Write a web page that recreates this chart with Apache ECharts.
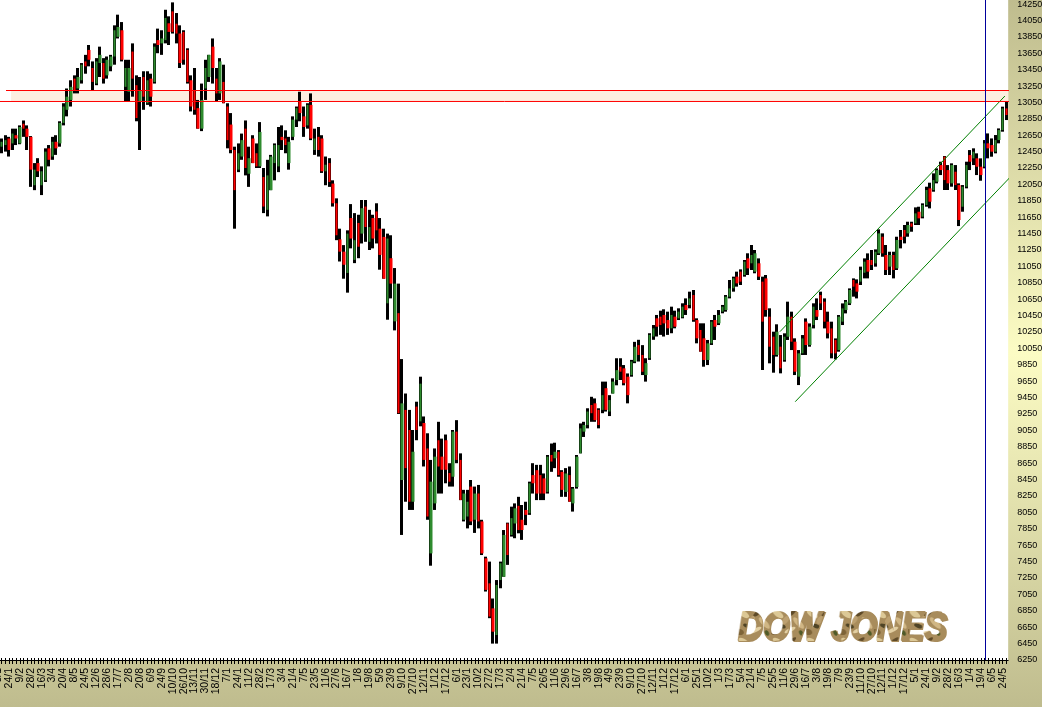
<!DOCTYPE html>
<html>
<head>
<meta charset="utf-8">
<style>html,body{margin:0;padding:0;background:#fff}#c{width:1042px;height:707px}</style>
<script src="https://cdn.jsdelivr.net/npm/echarts@6/dist/echarts.min.js"></script>
</head>
<body>
<div id="c"></div>
<script>
// Date labels, one for every third tick
const tickLabels = ["5/1","24/1","9/2","28/2","16/3","3/4","20/4","8/5","24/5","12/6","28/6","17/7","2/8","20/8","6/9","24/9","10/10","26/10","13/11","30/11","18/12","7/1","24/1","11/2","28/2","17/3","3/4","21/4","7/5","23/5","11/6","27/6","16/7","1/8","19/8","5/9","23/9","9/10","27/10","12/11","1/12","17/12","6/1","23/1","10/2","27/2","17/3","2/4","21/4","7/5","26/5","11/6","29/6","16/7","3/8","19/8","4/9","23/9","9/10","27/10","12/11","1/12","17/12","6/1","25/1","10/2","1/3","17/3","5/4","21/4","7/5","25/5","11/6","29/6","16/7","3/8","19/8","7/9","23/9","11/10","27/10","12/11","1/12","17/12","5/1","24/1","9/2","28/2","16/3","1/4","19/4","6/5","24/5"];
const priceTicks = [6250,6450,6650,6850,7050,7250,7450,7650,7850,8050,8250,8450,8650,8850,9050,9250,9450,9650,9850,10050,10250,10450,10650,10850,11050,11250,11450,11650,11850,12050,12250,12450,12650,12850,13050,13250,13450,13650,13850,14050,14250];
// Bars: [open, close, low, high]
const barsA = [[12490,12550,12430,12590],[12510,12570,12430,12610],[12530,12590,12450,12650],[12610,12470,12390,12630],[12550,12670,12470,12730],[12650,12610,12530,12730],[12550,12750,12540,12770],[12790,12730,12630,12830],[12730,12630,12470,12770],[12630,12230,12020,12640],[12040,12230,11980,12310],[12310,12210,12140,12370],[12040,12210,11920,12270],[12100,12450,12080,12490],[12490,12350,12270,12530],[12390,12570,12350,12630],[12570,12490,12410,12650],[12550,12800,12510,12820],[12800,13000,12770,13040],[12960,13120,12880,13220],[13080,13240,13000,13320],[13340,13200,13160,13380],[13220,13360,13160,13470],[13320,13510,13280,13530],[13550,13490,13400,13630],[13690,13570,13490,13750],[13470,13300,13200,13550],[13280,13550,13260,13590],[13530,13630,13360,13730],[13530,13340,13280,13590],[13380,13570,13340,13610],[13490,13610,13430,13630],[13610,13930,13510,13990],[13850,13970,13830,14120],[13930,13570,13550,14030],[13240,13470,13060,13570],[13180,13470,13060,13570],[13670,13340,13120,13770],[13260,12860,12820,13380],[13060,13200,12470,13360],[13360,13120,12960,13430],[13040,13320,13020,13430],[13340,13120,13000,13400],[13300,13730,13280,13770],[13810,13750,13650,13950],[13770,13830,13630,13930],[13810,14080,13770,14180],[14015,13910,13750,14100],[14160,13910,13890,14270],[14010,13890,13770,14140],[13890,13530,13470,13990],[13910,13570,13510,13930],[13690,13300,13280,13710],[13320,13000,12940,13380],[13200,12960,12900,13470],[12980,12730,12730,13080],[12730,13080,12700,13280],[13220,13470,13080,13570],[13360,13630,13300,13630],[13730,13470,13280,13830],[13340,13160,13060,13470],[13160,13550,13080,13590],[13300,13040,13040,13510],[13000,12590,12490,13040],[12780,12470,12430,12920],[12470,11980,11510,12510],[12230,12430,12200,12550],[12390,12590,12350,12670],[12730,12250,12160,12830],[12180,12370,12020,12510],[12610,12310,12310,12650],[12430,12270,12250,12550],[12270,12690,12250,12810],[12140,11780,11700,12250],[11740,12160,11660,12350],[11980,12390,11980,12410],[12310,12530,12100,12550],[12270,12530,12200,12750],[12630,12590,12470,12770],[12610,12530,12430,12710],[12310,12570,12230,12630],[12630,12840,12590,12880],[12840,12980,12750,13000],[13060,12920,12820,13180],[12880,12750,12630,13000],[12770,13020,12730,13040],[13020,12610,12590,13160],[12470,12610,12410,12730],[12630,12470,12390,12750],[12610,12210,12190,12650],[12210,12290,12040,12390],[12310,12080,12020,12370],[12060,11820,11780,12100],[11820,11430,11370,11880]];
const barsB = [[11380,11230,11110,11510],[11230,11070,10900,11310],[10970,11450,10730,11490],[11640,11390,11270,11810],[11130,11370,11090,11700],[11580,11290,11150,11680],[11450,11760,11330,11860],[11780,11530,11350,11860],[11350,11530,11250,11740],[11640,11390,11270,11680],[11720,11490,11330,11820],[11510,11190,11010,11640],[11410,10900,10900,11510],[10600,11390,10400,11450],[11150,10840,10660,11430],[10380,10840,10270,11030],[10480,9260,9250,10840],[8445,9380,7775,9920],[9300,8590,8180,9500],[9055,8180,8080,9300],[8180,8790,8080,9055],[9340,9055,8930,9400],[9160,9620,9100,9705],[9140,8690,8610,9220],[8830,8000,7960,9015],[7550,8425,7400,8690],[8160,8730,8080,8830],[8930,8610,8280,9155],[8730,8570,8280,8950],[8930,8570,8405,9000],[8530,8425,8365,8650],[8485,9035,8365,9055],[9035,8690,8650,9175],[8690,8200,8200,8770],[7960,8280,7940,8325],[8000,8180,7855,8325],[8365,7940,7895,8445],[7960,8280,7800,8365],[8280,7940,7855,8385],[7940,7550,7530,7960],[7490,7105,7085,7510],[7185,6780,6760,7450],[6880,6595,6450,7000],[6555,7165,6450,7225],[7225,7430,7125,7450],[7265,7775,7265,7835],[7915,7530,7410,7925],[7775,7980,7755,8120],[7915,8100,7735,8160],[8130,7835,7795,8240],[7960,7835,7715,8140],[8080,8020,7895,8180],[8040,8405,8020,8425],[8505,8405,8280,8650],[8565,8280,8200,8630],[8505,8280,8200,8630],[8465,8280,8200,8525],[8300,8730,8280,8750],[8750,8670,8545,8890],[8710,8790,8590,8900],[8790,8505,8485,8810],[8545,8325,8240,8565],[8300,8525,8240,8590],[8505,8180,8180,8610]];
const barsC = [[8160,8340,8060,8360],[8360,8730,8340,8750],[8770,9075,8770,9135],[9035,9115,8970,9155],[9115,9280,9075,9320],[9360,9260,9155,9460],[9380,9175,9155,9440],[9300,9115,9075,9320],[9300,9480,9260,9645],[9565,9300,9280,9645],[9280,9420,9225,9480],[9500,9645,9500,9685],[9665,9785,9600,9930],[9827,9766,9665,9930],[9807,9625,9600,9847],[9705,9480,9380,9745],[9725,9890,9705,9910],[9890,10070,9870,10130],[10090,9970,9890,10155],[9970,9765,9725,10090],[9725,9870,9645,9930],[9930,10215,9910,10235],[10195,10295,10155,10335],[10417,10315,10195,10458],[10437,10335,10215,10510],[10458,10355,10195,10527],[10396,10295,10215,10498],[10295,10458,10235,10559],[10437,10315,10295,10510],[10417,10498,10396,10539],[10430,10559,10417,10600],[10580,10518,10458,10660],[10580,10660,10539,10742],[10701,10396,10375,10762],[10396,10173,10112,10417],[10275,10010,10010,10356],[10173,9909,9827,10356],[9909,10112,9847,10153],[10112,10376,10092,10396],[10396,10315,10153,10458],[10356,10458,10335,10518],[10498,10559,10478,10580],[10518,10681,10498,10701],[10681,10782,10660,10884],[10783,10905,10742,10925],[10925,10843,10803,10986],[10986,10864,10823,11014],[10945,11108,10925,11128],[11148,11026,10945,11210],[11088,11189,11006,11311],[10986,11210,10966,11250],[11088,10925,10884,11148],[10864,10376,9787,10925],[10904,10518,10437,10945],[10437,10071,9868,10539],[10193,9970,9754,10254],[9970,10254,9950,10344],[10071,9807,9746,10213],[9909,10193,9888,10234],[10193,10437,10153,10620],[10437,10132,10030,10498],[10132,9766,9725,10173]];
const barsD = [[9705,9990,9603,10030],[9990,10172,9970,10213],[10376,10091,9970,10416],[10091,10315,10071,10355],[10335,10559,10294,10600],[10518,10437,10396,10660],[10701,10599,10518,10742],[10620,10376,10294,10660],[10376,10233,10172,10498],[10294,9990,9929,10376],[10152,9990,9916,10172],[10030,10437,10010,10457],[10376,10538,10335,10599],[10518,10620,10477,10640],[10599,10762,10579,10782],[10884,10803,10681,10904],[10843,10742,10660,10892],[10864,11006,10823,11047],[10973,11108,10904,11148],[11128,10986,10904,11209],[11128,11067,11006,11250],[11087,11229,11047,11258],[11209,11453,11189,11502],[11412,11209,11168,11453],[11189,11006,10945,11311],[11047,11189,10945,11229],[11189,11006,10904,11229],[11026,11372,11006,11412],[11412,11372,11270,11494],[11494,11412,11331,11555],[11453,11555,11412,11595],[11575,11534,11473,11595],[11575,11697,11555,11770],[11717,11636,11555,11778],[11656,11799,11636,11819],[11799,11982,11778,12022],[12002,11839,11758,12071],[11982,12103,11961,12185],[12083,12225,12063,12246],[12286,12225,12164,12327],[12388,12103,11982,12396],[12225,12063,11982,12286],[12063,12286,12022,12307],[12205,12042,11982,12286],[12042,11616,11542,12063],[11778,12022,11717,12042],[12022,12286,12002,12327],[12408,12327,12225,12469],[12368,12449,12286,12490],[12368,12266,12164,12429],[12266,12164,12095,12368],[12266,12551,12246,12591],[12551,12490,12368,12672],[12530,12449,12388,12611],[12449,12591,12429,12652],[12591,12713,12551,12733],[12713,12977,12693,12998],[12977,12896,12835,13059]];
// Channel and level lines: [bar position, price]
const channelUpper = [[214.8,10254],[276.6,13128]];
const channelLower = [[219,9400],[280.8,12266]];
const levelHigh = [[2.2,13195.3],[278.6,13195.3]];
const levelLow = [[0,13061.2],[278.6,13061.2]];
const cursorLine = [[271.27,14299],[271.27,6250]];

const bars = barsA.concat(barsB, barsC, barsD);
const categories = bars.map((b, i) => i % 3 === 0 ? (tickLabels[i / 3] || '') : '');
const ranges = bars.map(b => [b[0], b[0], b[2], b[3]]);
const bodies = bars.map(b => [b[0], b[1], Math.min(b[0], b[1]), Math.max(b[0], b[1])]);
const lastIndex = bars.length - 1;
const logoText = 'DOW JONES';
const logoFont = 'italic bold 40px "Liberation Sans"';

// Rock-like texture laid over the title's letters
function logoTexture() {
  const tile = document.createElement('canvas');
  tile.width = 40; tile.height = 28;
  const t = tile.getContext('2d');
  t.fillStyle = '#A88C5C'; t.fillRect(0, 0, 40, 28);
  [['#DCC896',8,6,7,3,0.5],['#5E4A28',24,5,6,2,-0.6],['#D0B684',32,15,8,3,0.7],['#4F4426',12,18,5,2,0.3],['#E2CFA2',22,22,7,2,-0.4],['#7E6438',3,24,5,3,0.2],['#4F5A28',35,25,3,2,0.8],['#BCA070',17,12,5,3,-0.8]].forEach(b => {
    t.fillStyle = b[0]; t.beginPath(); t.ellipse(b[1], b[2], b[3], b[4], b[5], 0, Math.PI * 2); t.fill();
  });
  const out = document.createElement('canvas');
  out.width = 240; out.height = 50;
  const c = out.getContext('2d');
  c.font = logoFont; c.textBaseline = 'top'; c.lineJoin = 'round';
  c.lineWidth = 2; c.strokeStyle = '#000'; c.fillStyle = '#000';
  c.strokeText(logoText, 1, 1); c.fillText(logoText, 1, 1);
  c.globalCompositeOperation = 'source-in';
  c.fillStyle = c.createPattern(tile, 'repeat');
  c.fillRect(0, 0, 240, 50);
  return out;
}

const chart = echarts.init(document.getElementById('c'), null, {renderer: 'canvas'});
const overlay = (name, data, color, z) => ({
  name, type: 'line', xAxisIndex: 2, yAxisIndex: 0, data, symbol: 'none', clip: false, silent: true, z,
  lineStyle: {color, width: 1, cap: 'butt'}
});
chart.setOption({
  animation: false,
  tooltip: {show: false},
  backgroundColor: new echarts.graphic.LinearGradient(0, 0, 0, 1, [
    {offset: 0, color: '#BFBC8E'}, {offset: 0.5, color: '#FCFCC4'}, {offset: 1, color: '#BFBC8E'}
  ]),
  grid: {left: -3.82, top: 0, width: 1012, height: 660, show: true, backgroundColor: '#ffffff', borderWidth: 0, outerBoundsMode: 'none'},
  xAxis: [
    {type: 'category', data: categories, position: 'bottom', boundaryGap: true,
      axisLine: {show: true, lineStyle: {color: '#000', width: 1}},
      axisTick: {show: true, interval: 0, alignWithLabel: true, length: 4, lineStyle: {color: '#000'}},
      axisLabel: {show: true, interval: 2, rotate: 90, margin: 8, fontSize: 10.5, color: '#000', fontFamily: 'Liberation Sans', hideOverlap: false},
      splitLine: {show: false}},
    {type: 'category', data: categories, position: 'bottom', boundaryGap: true,
      axisLine: {show: false},
      axisTick: {show: true, inside: true, interval: 0, alignWithLabel: true, length: 2, lineStyle: {color: '#000'}},
      axisLabel: {show: false}, splitLine: {show: false}},
    {type: 'value', show: false, min: -0.5, max: lastIndex + 0.5, splitLine: {show: false}}
  ],
  yAxis: [{
    type: 'value', position: 'right', min: 6250, max: 14299, scale: true,
    axisLine: {show: false}, axisTick: {show: false}, splitLine: {show: false},
    axisLabel: {show: true, customValues: priceTicks, margin: 9, fontSize: 9, color: '#000', fontFamily: 'Liberation Sans', formatter: v => String(v)}
  }],
  series: [
    {name: 'Band', type: 'line', xAxisIndex: 2, yAxisIndex: 0, data: [], z: 1, silent: true, clip: false,
      markArea: {silent: true, itemStyle: {color: '#FDEEE0'}, label: {show: false},
        data: [[{coord: [3.6, levelHigh[0][1]]}, {coord: [lastIndex + 0.5, levelLow[0][1]]}]]}},
    {name: 'Range', type: 'candlestick', xAxisIndex: 0, yAxisIndex: 0, data: ranges, barWidth: 1, z: 2, silent: true, clip: false,
      itemStyle: {color: '#000', color0: '#000', borderColor: '#000', borderColor0: '#000', borderWidth: 3}},
    {name: 'Dow Jones', type: 'candlestick', xAxisIndex: 0, yAxisIndex: 0, data: bodies, barWidth: 3, z: 3, silent: true, clip: false,
      itemStyle: {color: '#2E8B2E', color0: '#FF0000', borderColor: '#2E8B2E', borderColor0: '#FF0000', borderWidth: 0}},
    overlay('Upper channel', channelUpper, '#008000', 4),
    overlay('Lower channel', channelLower, '#008000', 4),
    overlay('Resistance high', levelHigh, '#FF0000', 5),
    overlay('Resistance low', levelLow, '#FF0000', 5),
    overlay('Cursor', cursorLine, '#00009C', 6)
  ],
  graphic: [
    {type: 'text', left: 738, top: 609, z: 20, silent: true, scaleX: 0.855,
      style: {text: logoText, font: logoFont, fill: '#A88C5C', stroke: '#A88C5C', lineWidth: 2,
        shadowColor: '#1E1206', shadowOffsetX: 5, shadowOffsetY: 1, shadowBlur: 0}},
    {type: 'image', left: 737, top: 608, z: 21, silent: true, scaleX: 0.855,
      style: {image: logoTexture(), x: 0, y: 0}}
  ]
});
</script>
</body>
</html>
